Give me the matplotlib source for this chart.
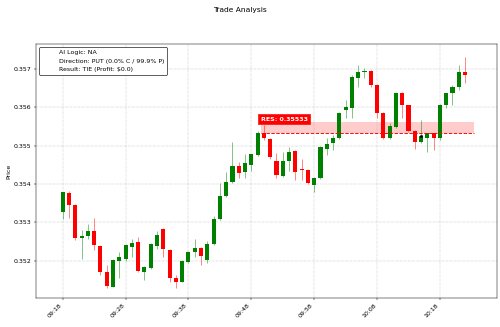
import matplotlib
matplotlib.use("Agg")
import matplotlib.pyplot as plt
import matplotlib.dates as mdates
import pandas as pd

# 1-minute candles, 09:18 .. 10:22
start = "2024-01-02 09:18"
n_candles = 65
opens = [0.35326, 0.35376, 0.35345, 0.35260, 0.35264, 0.35278, 0.35239, 0.35170, 0.35132, 0.35199,
         0.35204, 0.35236, 0.35248, 0.35171, 0.35180, 0.35238, 0.35283, 0.35228, 0.35154, 0.35145,
         0.35197, 0.35223, 0.35234, 0.35202, 0.35243, 0.35309, 0.35368, 0.35406, 0.35447, 0.35430,
         0.35449, 0.35475, 0.35533, 0.35516, 0.35460, 0.35421, 0.35460, 0.35486, 0.35439, 0.35436,
         0.35397, 0.35416, 0.35491, 0.35506, 0.35519, 0.35594, 0.35598, 0.35677, 0.35692, 0.35695,
         0.35659, 0.35586, 0.35520, 0.35549, 0.35638, 0.35605, 0.35538, 0.35508, 0.35521, 0.35532,
         0.35519, 0.35607, 0.35638, 0.35652, 0.35692]
highs = [0.35380, 0.35382, 0.35347, 0.35280, 0.35296, 0.35310, 0.35241, 0.35189, 0.35204, 0.35223,
         0.35243, 0.35257, 0.35261, 0.35186, 0.35245, 0.35276, 0.35286, 0.35230, 0.35163, 0.35202,
         0.35225, 0.35256, 0.35236, 0.35251, 0.35316, 0.35402, 0.35432, 0.35510, 0.35458, 0.35477,
         0.35479, 0.35539, 0.35553, 0.35520, 0.35480, 0.35484, 0.35495, 0.35488, 0.35464, 0.35438,
         0.35418, 0.35499, 0.35519, 0.35527, 0.35587, 0.35618, 0.35684, 0.35711, 0.35701, 0.35697,
         0.35661, 0.35588, 0.35558, 0.35640, 0.35640, 0.35607, 0.35540, 0.35566, 0.35534, 0.35534,
         0.35609, 0.35638, 0.35659, 0.35710, 0.35731]
lows = [0.35308, 0.35310, 0.35254, 0.35204, 0.35257, 0.35228, 0.35163, 0.35128, 0.35130, 0.35154,
        0.35200, 0.35209, 0.35170, 0.35150, 0.35178, 0.35230, 0.35210, 0.35143, 0.35128, 0.35143,
        0.35195, 0.35210, 0.35189, 0.35195, 0.35241, 0.35307, 0.35366, 0.35402, 0.35416, 0.35416,
        0.35434, 0.35473, 0.35515, 0.35464, 0.35415, 0.35419, 0.35434, 0.35410, 0.35410, 0.35400,
        0.35380, 0.35414, 0.35475, 0.35488, 0.35517, 0.35571, 0.35571, 0.35653, 0.35675, 0.35653,
        0.35571, 0.35518, 0.35518, 0.35547, 0.35573, 0.35536, 0.35490, 0.35506, 0.35484, 0.35488,
        0.35514, 0.35598, 0.35605, 0.35645, 0.35662]
closes = [0.35378, 0.35345, 0.35258, 0.35264, 0.35278, 0.35241, 0.35170, 0.35134, 0.35202, 0.35209,
          0.35241, 0.35247, 0.35174, 0.35184, 0.35243, 0.35268, 0.35230, 0.35154, 0.35145, 0.35200,
          0.35223, 0.35232, 0.35213, 0.35243, 0.35309, 0.35368, 0.35406, 0.35447, 0.35428, 0.35455,
          0.35477, 0.35533, 0.35519, 0.35469, 0.35423, 0.35460, 0.35482, 0.35432, 0.35436, 0.35402,
          0.35416, 0.35497, 0.35504, 0.35519, 0.35585, 0.35601, 0.35678, 0.35692, 0.35695, 0.35659,
          0.35586, 0.35520, 0.35551, 0.35638, 0.35607, 0.35538, 0.35508, 0.35525, 0.35532, 0.35519,
          0.35607, 0.35636, 0.35652, 0.35692, 0.35685]

res_level = 0.35533
res_zone_top = 0.35562
zone_start = "2024-01-02 09:49:30"
zone_end = "2024-01-02 10:23:30"
entry_time = "2024-01-02 10:15"
entry_price = 0.35525

info_lines = ["AI Logic: NA",
              "Direction: PUT (0.0% C / 99.9% P)",
              "Result: TIE (Profit: $0.0)"]

times = pd.date_range(start, periods=n_candles, freq="min")
x = mdates.date2num(times.to_pydatetime())
minute = 1 / (24 * 60)

fig, ax = plt.subplots(figsize=(11.2, 7.325), dpi=500 / 11.2)
fig.subplots_adjust(left=0.072, right=0.993, top=0.8645, bottom=0.088)
fig.suptitle("Trade Analysis", x=0.48)

colors = ["green" if c >= o else "red" for o, c in zip(opens, closes)]
bottoms = [min(o, c) for o, c in zip(opens, closes)]
heights = [max(abs(c - o), 0.000008) for o, c in zip(opens, closes)]

ax.vlines(x, lows, highs, colors=colors, linewidth=1.5, alpha=0.5, zorder=2)
ax.bar(x, heights, bottom=bottoms, width=0.65 * minute, color=colors, zorder=3)

# resistance zone
z0 = mdates.date2num(pd.Timestamp(zone_start))
z1 = mdates.date2num(pd.Timestamp(zone_end))
ax.fill_between([z0, z1], res_level, res_zone_top, color="red", alpha=0.2, linewidth=0, zorder=1)
ax.hlines(res_level, z0, z1, colors="red", linestyles="--", linewidth=1.5, zorder=4)
ax.text(z0, res_zone_top, f"RES: {res_level}", color="white", fontweight="bold",
        ha="left", va="bottom", zorder=5,
        bbox=dict(facecolor="red", edgecolor="red", boxstyle="square,pad=0.4"))

ax.plot(mdates.date2num(pd.Timestamp(entry_time)), entry_price, "ks", markersize=3, zorder=6)

for line in info_lines:
    ax.plot([], [], " ", label=line)
ax.legend(loc="upper left", edgecolor="black", framealpha=1)

ax.set_ylabel("Price")
ax.set_xticks(x[::10])
ax.xaxis.set_major_formatter(mdates.DateFormatter("%H:%M"))
plt.setp(ax.get_xticklabels(), rotation=45, ha="right")
ax.set_xlim(x[0] - 4.25 * minute, x[0] + 69 * minute)
ax.set_ylim(0.35102, 0.35764)
ax.grid(True, linestyle=":", color="gray", alpha=0.8)

fig.savefig("out.png", dpi=fig.dpi)
